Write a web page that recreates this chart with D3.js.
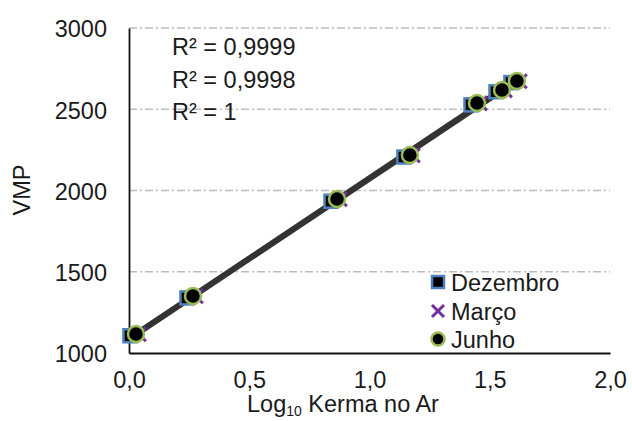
<!DOCTYPE html>
<html>
<head>
<meta charset="utf-8">
<script src="https://cdn.jsdelivr.net/npm/d3@7"></script>
<style>
  html, body { margin: 0; padding: 0; background: #fff; }
  svg text { font-family: "Liberation Sans", Arial, sans-serif; fill: #1a1a1a; }
</style>
</head>
<body>
<svg id="chart" width="632" height="421"></svg>
<script>
// ---- data ----
const seriesNames = ["Dezembro", "Março", "Junho"];
const dezembroX = [0.004, 0.241, 0.840, 1.143, 1.422, 1.526, 1.588];
const dezembroY = [1106, 1339, 1934, 2206, 2527, 2608, 2664];
const marcoX    = [0.041, 0.278, 0.877, 1.180, 1.459, 1.563, 1.625];
const marcoY    = [1115, 1349, 1946, 2216, 2536, 2616, 2672];
const junhoX    = [0.029, 0.266, 0.865, 1.168, 1.447, 1.551, 1.613];
const junhoY    = [1117, 1351, 1948, 2218, 2538, 2618, 2674];
const r2Labels  = ["R² = 0,9999", "R² = 0,9998", "R² = 1"];
const xTicks = [0, 0.5, 1.0, 1.5, 2.0];
const yTicks = [1000, 1500, 2000, 2500, 3000];

const svg = d3.select("#chart");
const x = d3.scaleLinear().domain([0, 2]).range([129, 610]);
const y = d3.scaleLinear().domain([1000, 3000]).range([353, 28]);
const FS = 23.5;

// gridlines
svg.append("g").selectAll("line")
  .data(yTicks.filter(d => d > 1000))
  .join("line")
  .attr("x1", x(0)).attr("x2", x(2))
  .attr("y1", d => y(d)).attr("y2", d => y(d))
  .attr("stroke", "#bdbdbd").attr("stroke-width", 1.3)
  .attr("stroke-dasharray", "8,3,2,3");

// axes
const fmt = d => d3.format(".1f")(d).replace(".", ",");
const gx = svg.append("g").attr("transform", `translate(0,${y(1000)})`)
  .call(d3.axisBottom(x).tickValues(xTicks).tickFormat(fmt).tickSizeInner(0).tickSizeOuter(0).tickPadding(18));
const gy = svg.append("g").attr("transform", `translate(${x(0)},0)`)
  .call(d3.axisLeft(y).tickValues(yTicks).tickFormat(d3.format("d")).tickSizeInner(0).tickSizeOuter(0).tickPadding(22));
[gx, gy].forEach(g => {
  g.selectAll("text").attr("font-size", FS).attr("font-family", "Liberation Sans, Arial, sans-serif").attr("fill", "#1a1a1a");
  g.select(".domain").attr("stroke", "#111").attr("stroke-width", 1.8);
});
gy.selectAll("text").attr("dy", "0.38em");

// series
const series = [
  {name: seriesNames[0], xs: dezembroX, ys: dezembroY},
  {name: seriesNames[1], xs: marcoX, ys: marcoY},
  {name: seriesNames[2], xs: junhoX, ys: junhoY}
];
series.forEach(s => { s.pts = s.xs.map((v, i) => ({x: v, y: s.ys[i]})); });

// linear trendlines (least squares) over each series' x range
function fit(pts) {
  const mx = d3.mean(pts, d => d.x), my = d3.mean(pts, d => d.y);
  let sxy = 0, sxx = 0;
  pts.forEach(d => { sxy += (d.x - mx) * (d.y - my); sxx += (d.x - mx) ** 2; });
  const b = sxy / sxx, a = my - b * mx;
  return [a, b];
}
const lineGen = d3.line().x(d => x(d.x)).y(d => y(d.y));
series.forEach(s => {
  const [a, b] = fit(s.pts);
  const ext = d3.extent(s.pts, d => d.x);
  svg.append("path")
    .datum(ext.map(v => ({x: v, y: a + b * v})))
    .attr("d", lineGen)
    .attr("fill", "none").attr("stroke", "#333").attr("stroke-width", 2.6);
});

// markers
function square(g, cx, cy, s) {
  g.append("rect").attr("x", cx - s / 2).attr("y", cy - s / 2).attr("width", s).attr("height", s)
    .attr("fill", "#000").attr("stroke", "#4f81bd").attr("stroke-width", 2.5);
}
function cross(g, cx, cy, s) {
  const h = s / 2;
  g.append("path").attr("d", `M${cx - h},${cy - h}L${cx + h},${cy + h}M${cx - h},${cy + h}L${cx + h},${cy - h}`)
    .attr("stroke", "#7030a0").attr("stroke-width", 3).attr("fill", "none");
}
function dot(g, cx, cy, r) {
  g.append("circle").attr("cx", cx).attr("cy", cy).attr("r", r)
    .attr("fill", "#000").attr("stroke", "#9bbb59").attr("stroke-width", 2.5);
}
const gm = svg.append("g");
series[0].pts.forEach(d => square(gm, x(d.x), y(d.y), 13));
series[1].pts.forEach(d => cross(gm, x(d.x), y(d.y), 14));
series[2].pts.forEach(d => dot(gm, x(d.x), y(d.y), 8));

// R² labels
svg.append("g").selectAll("text").data(r2Labels).join("text")
  .attr("x", 172).attr("y", (d, i) => 55 + i * 32.5)
  .attr("font-size", FS).text(d => d);

// legend
const lg = svg.append("g");
const legY = [282, 311, 339];
square(lg, 438, legY[0], 12);
cross(lg, 438, legY[1], 12);
dot(lg, 438, legY[2], 6.5);
lg.selectAll("text").data(seriesNames).join("text")
  .attr("x", 451).attr("y", (d, i) => legY[i] + 8.5)
  .attr("font-size", FS).text(d => d);

// axis titles
const xt = svg.append("text").attr("x", 247).attr("y", 412).attr("font-size", FS);
xt.append("tspan").text("Log");
xt.append("tspan").attr("font-size", 14).attr("dy", 4).text("10");
xt.append("tspan").attr("dy", -4).text(" Kerma no Ar");

svg.append("text").attr("transform", "translate(30,190) rotate(-90)")
  .attr("text-anchor", "middle").attr("font-size", FS).text("VMP");
</script>
</body>
</html>
